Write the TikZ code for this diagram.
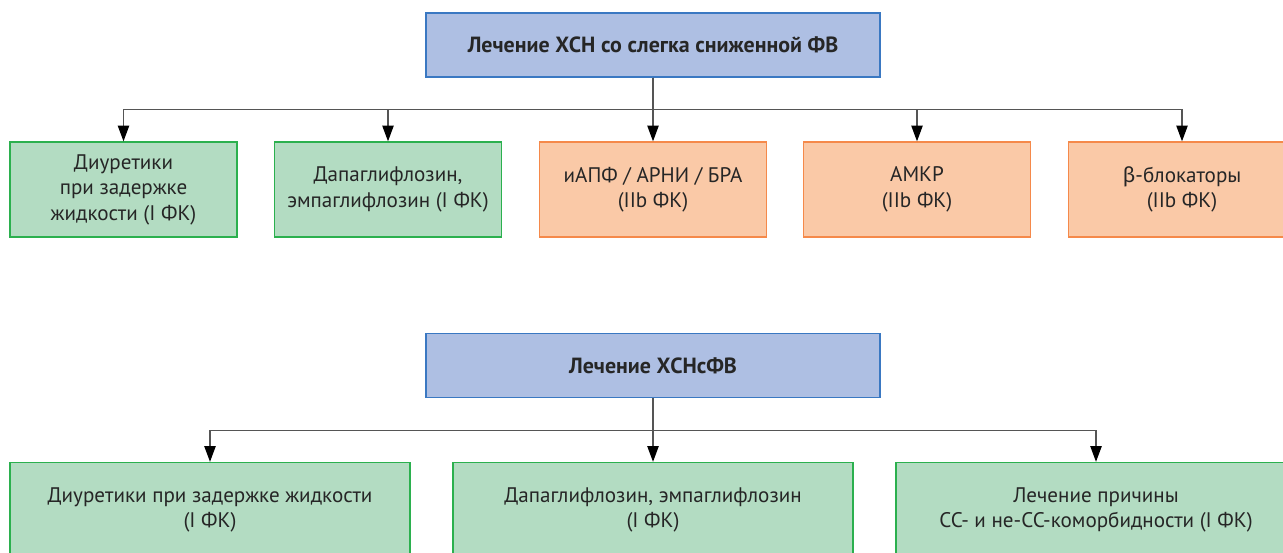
\documentclass[tikz,border=0pt]{standalone}
\usepackage{fontspec}
\setmainfont{PT Sans}
\newfontfamily\grk{Fira Sans}
\usetikzlibrary{arrows.meta,positioning}

\definecolor{hdrfill}{HTML}{AEBFE3}
\definecolor{hdrline}{HTML}{3A78C2}
\definecolor{grnfill}{HTML}{B3DCC2}
\definecolor{grnline}{HTML}{2BB04E}
\definecolor{orgfill}{HTML}{FAC9A7}
\definecolor{orgline}{HTML}{F5894A}
\definecolor{linegray}{HTML}{555555}

\tikzset{
  box/.style={draw,line width=0.8pt,minimum width=4.54cm,minimum height=1.9cm,align=center,inner sep=0pt,text=black!85},
  grnbox/.style={box,fill=grnfill,draw=grnline},
  orgbox/.style={box,fill=orgfill,draw=orgline},
  widebox/.style={grnbox,minimum width=8cm},
  hdr/.style={box,fill=hdrfill,draw=hdrline,minimum width=9.08cm,minimum height=1.28cm,font=\fontsize{12.5}{15}\selectfont\bfseries},
  conn/.style={draw=linegray,line width=0.7pt,-{Triangle[length=9pt,width=6.5pt,color=black]}}
}

\begin{document}
\begin{tikzpicture}[x=0.02cm,y=-0.02cm,font=\fontsize{12}{14.5}\selectfont]
            \clip (0,0) rectangle (1283,552);
            % upper tree
            \node[hdr] (hfmref) at (653,45) {Лечение ХСН со слегка сниженной ФВ};
            \node[grnbox] (diur1) at (123.5,189.5) {Диуретики\\при задержке\\жидкости (I ФК)};
            \node[grnbox] (dapa1) at (388,189.5) {Дапаглифлозин,\\эмпаглифлозин (I ФК)};
            \node[orgbox] (iapf) at (653,189.5) {иАПФ / АРНИ / БРА\\(IIb ФК)};
            \node[orgbox] (amkr) at (917,189.5) {АМКР\\(IIb ФК)};
            \node[orgbox] (bblk) at (1182,189.5) {{\grk β}-блокаторы\\(IIb ФК)};
            \draw[conn] (hfmref.south) -- ++(0,32) -| (diur1.north);
            \draw[conn] (hfmref.south) -- ++(0,32) -| (dapa1.north);
            \draw[conn] (hfmref.south) -- (iapf.north);
            \draw[conn] (hfmref.south) -- ++(0,32) -| (amkr.north);
            \draw[conn] (hfmref.south) -- ++(0,32) -| (bblk.north);
            % lower tree
            \node[hdr] (hfpef) at (653,365.5) {Лечение ХСНсФВ};
            \node[widebox] (diur2) at (210,510) {Диуретики при задержке жидкости\\(I ФК)};
            \node[widebox] (dapa2) at (653,510) {Дапаглифлозин, эмпаглифлозин\\(I ФК)};
            \node[widebox] (cause) at (1096,510) {Лечение причины\\СС- и не-СС-коморбидности (I ФК)};
            \draw[conn] (hfpef.south) -- ++(0,32) -| (diur2.north);
            \draw[conn] (hfpef.south) -- (dapa2.north);
            \draw[conn] (hfpef.south) -- ++(0,32) -| (cause.north);
\end{tikzpicture}
\end{document}
